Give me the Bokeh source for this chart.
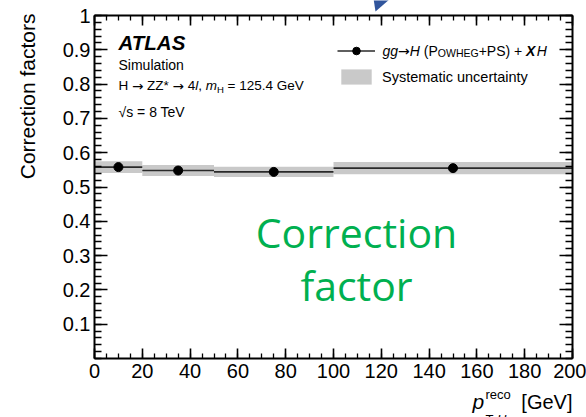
import math

from bokeh.plotting import figure
from bokeh.models import (ColumnDataSource, FixedTicker, LinearAxis, Label,
                          Legend, LegendItem, PolyAnnotation, Range1d)
from bokeh.embed import file_html
from bokeh.resources import INLINE

# ---------------------------------------------------------------- data
# reconstructed-pT bins of the Higgs boson (GeV)
bin_low = [0, 20, 50, 100]
bin_high = [20, 50, 100, 200]
bin_center = [10, 35, 75, 150]
# correction factor per bin and its systematic uncertainty
corr_factor = [0.558, 0.548, 0.544, 0.555]
syst_unc = [0.017, 0.016, 0.015, 0.018]

x_ticks = [0, 20, 40, 60, 80, 100, 120, 140, 160, 180, 200]
x_tick_labels = ["0", "20", "40", "60", "80", "100", "120", "140", "160", "180", "200"]
x_minor = list(range(0, 201, 5))
y_ticks = [0.1, 0.2, 0.3, 0.4, 0.5, 0.6, 0.7, 0.8, 0.9, 1.0]
y_tick_labels = ["0.1", "0.2", "0.3", "0.4", "0.5", "0.6", "0.7", "0.8", "0.9", "1"]
y_minor = [round(0.02 * i, 2) for i in range(51)]

# ---------------------------------------------------------------- layout
W, H = 586, 417
FL, FR, FT, FB = 94, 572, 15, 358          # axis box edges in pixels
X0, X1, Y0, Y1 = 0.0, 200.0, 0.0, 1.0      # axis box in data units
FONT = "Liberation Sans"
ARROW_FONT = "DejaVu Sans"
BASELINE_LIFT = 0.37                       # em offset between label anchor and glyph baseline


def dx(px):
    return X0 + (px - FL) * (X1 - X0) / (FR - FL)


def dy(py):
    return Y0 + (FB - py) * (Y1 - Y0) / (FB - FT)


# the frame spans the whole canvas; the axes sit at fixed data positions
p = figure(width=W, height=H, output_backend="svg", toolbar_location=None,
           x_range=Range1d(dx(0), dx(W)), y_range=Range1d(dy(H), dy(0)),
           x_axis_type=None, y_axis_type=None,
           min_border=0, min_border_left=0, min_border_right=0,
           min_border_top=0, min_border_bottom=0)
p.grid.visible = False
p.outline_line_color = None
p.background_fill_color = "white"
p.border_fill_color = "white"

src = ColumnDataSource(dict(
    left=bin_low, right=bin_high, x=bin_center, y=corr_factor,
    top=[v + s for v, s in zip(corr_factor, syst_unc)],
    bottom=[v - s for v, s in zip(corr_factor, syst_unc)],
))

band_r = p.quad(left="left", right="right", top="top", bottom="bottom", source=src,
                fill_color="#c9c9c9", line_color=None)
line_r = p.segment(x0="left", x1="right", y0="y", y1="y", source=src,
                   line_color="#2a2a2a", line_width=1.6)
pts_r = p.scatter(x="x", y="y", source=src, size=9, marker="circle",
                  fill_color="black", line_color="black")


# ---------------------------------------------------------------- axes
def make_axis(ticks, minor, labels, loc, bounds, major_len, minor_len, standoff):
    ax = LinearAxis(ticker=FixedTicker(ticks=ticks, minor_ticks=minor),
                    fixed_location=loc, bounds=bounds)
    ax.axis_line_width = 2
    ax.axis_line_color = "black"
    ax.major_tick_in = major_len
    ax.major_tick_out = 0
    ax.minor_tick_in = minor_len
    ax.minor_tick_out = 0
    ax.major_tick_line_width = 1.6
    ax.minor_tick_line_width = 1.3
    ax.major_tick_line_color = "black"
    ax.minor_tick_line_color = "black"
    if labels is not None:
        ax.major_label_overrides = dict(zip(ticks, labels))
        ax.major_label_text_font = FONT
        ax.major_label_text_font_size = "20px"
        ax.major_label_text_color = "black"
        ax.major_label_standoff = standoff
    else:
        # mirrored axis: ticks only
        ax.major_label_text_color = None
        ax.major_label_standoff = 0
    return ax


p.add_layout(make_axis(x_ticks, x_minor, x_tick_labels, Y0, (X0, X1), 10, 5, 5), "below")
p.add_layout(make_axis(x_ticks, x_minor, None, Y1, (X0, X1), 10, 5, 0), "above")
p.add_layout(make_axis(y_ticks, y_minor, y_tick_labels, X0, (Y0, Y1), 13, 7, 4), "left")
p.add_layout(make_axis(y_ticks, y_minor, None, X1, (Y0, Y1), 13, 7, 0), "right")

# ---------------------------------------------------------------- texts
# advance widths (1/1000 em) of the sans-serif face, used to chain text runs
ADV = {" ": 278, "(": 333, ")": 333, "*": 389, "+": 584, ",": 278, ".": 278,
       "=": 584, "[": 278, "]": 278, "A": 667, "E": 667, "G": 778, "H": 722,
       "O": 778, "P": 667, "S": 667, "T": 611, "V": 667, "W": 944, "X": 667,
       "Z": 611, "a": 556, "c": 500, "e": 556, "g": 556, "i": 222, "l": 222,
       "m": 833, "n": 556, "o": 556, "p": 556, "r": 333, "s": 500, "t": 278,
       "u": 556, "y": 500, "\u2192": 838}


def advance(text, size):
    return sum(ADV.get(ch, 556) for ch in text) * size / 1000.0


def put(px, py, text, size, style="normal", color="black", font=FONT,
        angle=0.0, align="left"):
    lift = BASELINE_LIFT * size
    if angle:
        px -= lift
    else:
        py -= lift
    p.add_layout(Label(x=dx(px), y=dy(py), text=text, text_font=font,
                       text_font_size=f"{size}px", text_font_style=style,
                       text_color=color, text_align=align,
                       text_baseline="alphabetic", angle=angle))


def run(px, py, pieces):
    """Draw text pieces one after another on a shared baseline."""
    for piece in pieces:
        text, size = piece[0], piece[1]
        style = piece[2] if len(piece) > 2 else "normal"
        shift = piece[3] if len(piece) > 3 else 0
        font = ARROW_FONT if text.strip() == "\u2192" else FONT
        body = text.lstrip(" ")
        px += advance(text[:len(text) - len(body)], size)
        if body.strip():
            put(px, py + shift, body.rstrip(" "), size, style=style, font=font)
        px += advance(body, size)


# axis titles
put(35, 13, "Correction factors", 21, angle=math.pi / 2, align="right")
put(472, 409, "p", 21, style="italic")
put(485, 399, "reco", 13)
run(485, 424, [("T", 13), (",", 13), ("H", 13, "italic")])
put(572, 409, "[GeV]", 20, align="right")

# experiment block
put(118, 50, "ATLAS", 20.5, style="bold italic")
put(118, 70, "Simulation", 14)
run(118, 90, [("H ", 13.5), ("\u2192", 13.5), (" ZZ* ", 13.5), ("\u2192", 13.5),
              (" 4", 13.5), ("l", 13.5, "italic"), (", ", 13.5),
              ("m", 13.5, "italic"), ("H", 9.5, "normal", 3),
              (" = 125.4 GeV", 13.5)])
put(118, 117, "\u221As = 8 TeV", 14)

# legend keys come from the plotted renderers
legend = Legend(items=[LegendItem(label=" ", renderers=[line_r, pts_r]),
                       LegendItem(label="Systematic uncertainty", renderers=[band_r])],
                location=(337, H - 86), orientation="vertical",
                glyph_width=38, glyph_height=19, label_height=19, spacing=7,
                padding=0, margin=0, label_standoff=7,
                border_line_color=None, background_fill_alpha=0,
                label_text_font=FONT, label_text_font_size="14.5px",
                label_text_color="black")
p.add_layout(legend)

run(382, 56, [("gg", 14, "italic"), ("\u2192", 14), ("H", 14, "italic"),
              (" (P", 14), ("OWHEG", 10.5), ("+PS) + ", 14),
              ("X", 14, "bold italic"), (" ", 5), ("H", 14, "italic")])

# overlay annotation
put(356, 247, "Correction", 41, color="#00b050", font="Open Sans", align="center")
put(356, 300, "factor", 41, color="#00b050", font="Open Sans", align="center")

p.add_layout(PolyAnnotation(xs=[dx(373), dx(390), dx(375)], ys=[dy(-2), dy(-2), dy(11)],
                            fill_color="#30559c", fill_alpha=1.0, line_color=None))

open("out.html", "w").write(file_html(p, INLINE))
